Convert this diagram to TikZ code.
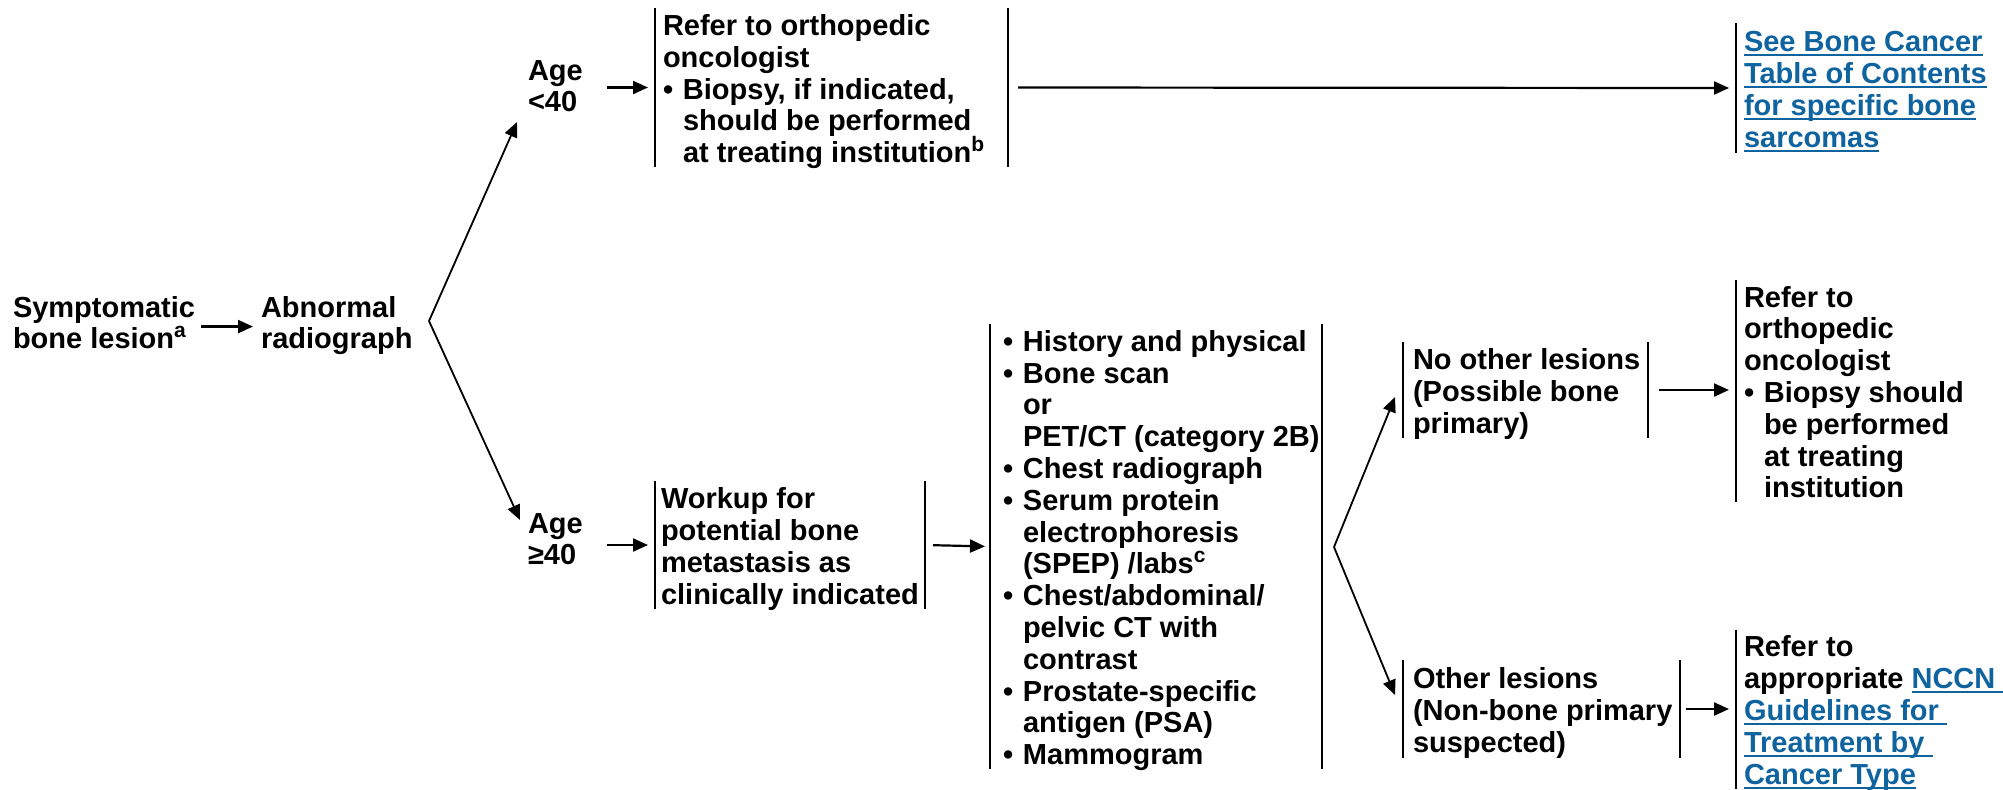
\documentclass[tikz,border=0pt]{standalone}
\usepackage{fontspec}
\setmainfont{Liberation Sans}
\usetikzlibrary{arrows.meta,calc}
\definecolor{lnkblue}{HTML}{0F64A0}
% small raised note letters that do not widen the line spacing
\newcommand\sups[1]{\smash{\raisebox{0.40em}{\fontsize{10.5}{10.5}\selectfont #1}}}
% underlined link text
\newcommand\lnk[1]{{\color{lnkblue}\setbox0\hbox{#1}\rlap{\rule[-2.3pt]{\wd0}{1pt}}\box0}}
% bullet and hanging indent
\newcommand\bul{\makebox[10pt][l]{•}}
\newcommand\ind{\hspace*{10pt}}
% block of lines with a fixed width, nudged down a little inside its bar frame
\newcommand\blk[2]{\makebox[#1][l]{\raisebox{-2.6pt}[\height][\depth]{\begin{tabular}{@{}l@{}}#2\end{tabular}}}}
% free label whose baseline is that of its first line
\newcommand\lbl[1]{\begin{tabular}[t]{@{}l@{}}#1\end{tabular}}
\begin{document}
\begin{tikzpicture}[x=0.5pt,y=-0.5pt,
  every node/.style={font=\fontsize{14.5}{15.9}\selectfont\bfseries, inner sep=0pt, outer sep=0pt},
  arr/.style={-{Triangle[length=7.5pt,width=6.5pt]}, line width=1.1pt},
  branch/.style={-{Triangle[length=7.5pt,width=6.5pt]}, line width=0.9pt},
  bar/.style={line width=1pt},
  bx/.style={rectangle, anchor=west, inner ysep=0pt},
  lb/.style={anchor=base west}]
\useasboundingbox (0,0) rectangle (2003,789);

% entry labels
\node[lb] (sym)  at (13,317)  {\lbl{Symptomatic\\bone lesion\sups{a}}};
\node[lb] (abn)  at (261,317) {\lbl{Abnormal\\radiograph}};
\node[lb] (age1) at (528,80)  {\lbl{Age\\<40}};
\node[lb] (age2) at (528,533) {\lbl{Age\\≥40}};

% boxes framed by vertical bars
\node[bx, inner xsep=4pt, minimum height=74.5pt] (b1) at (655,87.5)
  {\blk{168.5pt}{Refer to orthopedic\\oncologist\\\bul Biopsy, if indicated,\\\ind should be performed\\\ind at treating institution\sups{b}}};
\node[bx, inner xsep=4pt, minimum height=65pt] (lnk1) at (1736,88)
  {\blk{\width}{\lnk{See Bone Cancer}\\\lnk{Table of Contents}\\\lnk{for specific bone}\\\lnk{sarcomas}}};
\node[bx, inner xsep=3pt, minimum height=59pt] (wk) at (655,545)
  {\blk{129pt}{Workup for\\potential bone\\metastasis as\\clinically indicated}};
\node[bx, inner xsep=6.5pt, minimum height=218.5pt] (lst) at (990,546.5)
  {\blk{153pt}{\bul History and physical\\\bul Bone scan\\\ind or\\\ind PET/CT (category 2B)\\\bul Chest radiograph\\\bul Serum protein\\\ind electrophoresis\\\ind (SPEP) /labs\sups{c}\\\bul Chest/abdominal/\\\ind pelvic CT with\\\ind contrast\\\bul Prostate-specific\\\ind antigen (PSA)\\\bul Mammogram}};
\node[bx, inner xsep=5pt, minimum height=42pt] (nol) at (1403,390)
  {\blk{112.5pt}{No other lesions\\(Possible bone\\primary)}};
\node[bx, inner xsep=4pt, minimum height=106pt] (ref2) at (1736,391)
  {\blk{\width}{Refer to\\orthopedic\\oncologist\\\bul Biopsy should\\\ind be performed\\\ind at treating\\\ind institution}};
\node[bx, inner xsep=5pt, minimum height=49pt] (oth) at (1403,709)
  {\blk{128.5pt}{Other lesions\\(Non-bone primary\\suspected)}};
\node[bx, inner xsep=4pt, minimum height=74pt] (nccn) at (1736,709)
  {\blk{\width}{Refer to\\appropriate \lnk{NCCN\ }\\\lnk{Guidelines for\ }\\\lnk{Treatment by\ }\\\lnk{Cancer Type}}};

\foreach \n in {b1,wk,lst,nol,oth}
  \draw[bar] (\n.north west) -- (\n.south west) (\n.north east) -- (\n.south east);
\foreach \n in {lnk1,ref2,nccn}
  \draw[bar] (\n.north west) -- (\n.south west);

% branch points
\coordinate (br1) at (429,321);
\coordinate (br2) at (1334,547);

% connectors
\draw[arr, shorten <=3pt, shorten >=4pt] (sym.east) -- (abn.west);
\draw[branch] (br1) -- ($(age1.base west)+(-11,42)$);
\draw[branch] (br1) -- ($(age2.base west)+(-8,-13)$);
\draw[arr, shorten <=12pt, shorten >=3.5pt] (age1.east |- b1.west) -- (b1.west);
\draw[arr, shorten <=5pt, shorten >=3.5pt] (b1.east) -- (lnk1.west);
\draw[arr, shorten <=12pt, shorten >=3.5pt] (age2.east |- wk.west) -- (wk.west);
\draw[arr, shorten <=4pt, shorten >=2.5pt] (wk.east) -- (lst.west);
\draw[branch] (br2) -- ($(nol.west)+(-8,7)$);
\draw[branch] (br2) -- ($(oth.west)+(-8,-14)$);
\draw[arr, shorten <=5.5pt, shorten >=3.5pt] (nol.east) -- (nol.east -| ref2.west);
\draw[arr, shorten <=3pt, shorten >=3.5pt] (oth.east) -- (nccn.west);
\end{tikzpicture}
\end{document}
